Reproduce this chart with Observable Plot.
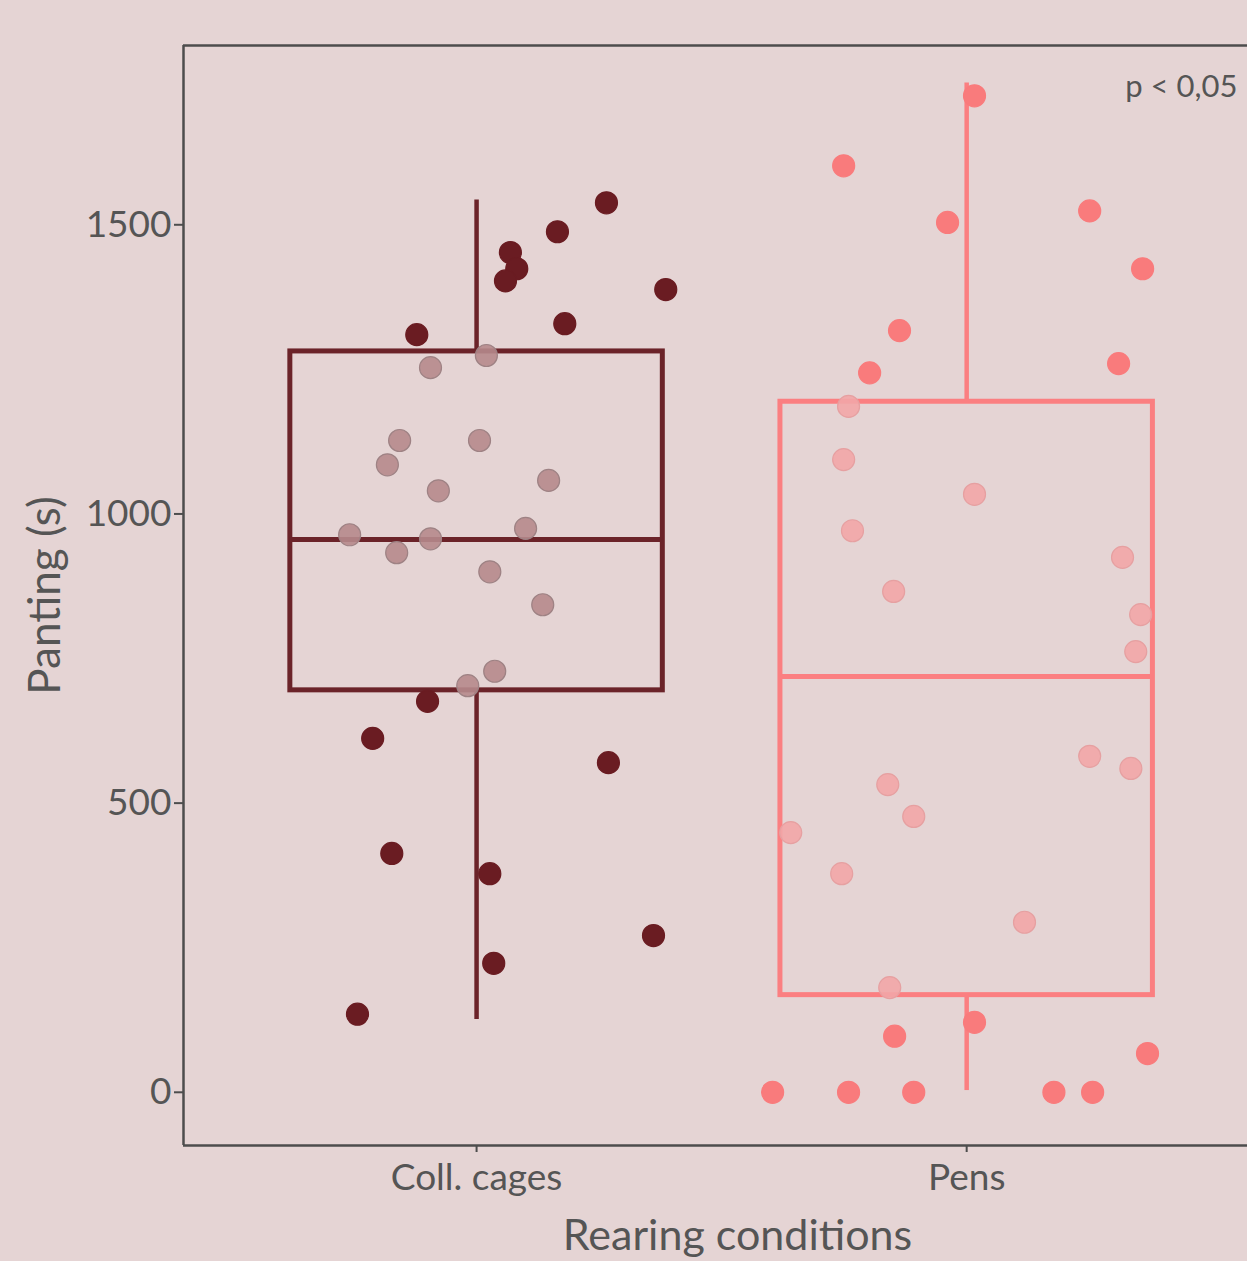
<!DOCTYPE html>
<html><head><meta charset="utf-8">
<script src="https://cdn.jsdelivr.net/npm/d3@7"></script>
<script src="https://cdn.jsdelivr.net/npm/@observablehq/plot@0.6"></script>
<style>
html,body{margin:0;padding:0;background:#e5d4d4;overflow:hidden}
#chart svg{display:block}
</style></head><body><div id="chart"></div>
<script>
// ---- data ----
const categories = ["Coll. cages", "Pens"];
const catPos = [1, 2];
const yTicks = [0, 500, 1000, 1500];
const boxQ1 = [695, 168];
const boxMedian = [956, 719];
const boxQ3 = [1281, 1194];
const whiskerLow = [126, 3];
const whiskerHigh = [1543, 1745];

const cagesOffset = [-0.122, 0.069, 0.082, 0.059, 0.165, 0.265, 0.386, 0.180, -0.100, -0.212, 0.269, -0.173, 0.027, 0.361, 0.035, -0.243,
  -0.094, 0.020, -0.157, 0.006, -0.182, -0.078, 0.147, -0.259, -0.094, 0.100, -0.163, 0.027, 0.135, 0.037, -0.018];
const cagesValue = [1310, 1452, 1424, 1403, 1488, 1538, 1388, 1329, 676, 612, 570, 413, 378, 271, 223, 135,
  1253, 1274, 1127, 1127, 1085, 1040, 1058, 964, 957, 975, 933, 900, 843, 728, 703];
const pensOffset = [0.016, -0.251, -0.039, 0.251, 0.359, -0.137, -0.198, 0.310, 0.016, -0.147, 0.369, -0.396, -0.241, -0.108, 0.178, 0.257,
  -0.241, -0.251, -0.233, 0.016, -0.149, 0.318, 0.355, 0.345, 0.251, 0.335, -0.161, -0.108, -0.359, -0.255, 0.118, -0.157];
const pensValue = [1723, 1602, 1504, 1524, 1424, 1317, 1244, 1260, 121, 97, 67, 0, 0, 0, 0, 0,
  1186, 1094, 971, 1034, 866, 925, 826, 762, 581, 560, 532, 477, 449, 378, 294, 181];

const pText = "p < 0,05";
const xTitle = "Rearing conditions";
const yTitle = "Panting (s)";

// ---- styles ----
const strokeCol = ["#6b2329", "#fb7f81"];
const darkFill = ["#6a1c22", "#f97b7c"];
const lightFill = ["#b68a8c", "#f2a6a7"];
const lightStroke = ["#9e8284", "#e6a0a1"];
const xDomain = [0.402, 2.573];
const yDomain = [-92, 1810];
const halfW = 0.38;

const boxes = categories.map((c, i) => ({
  c, x: catPos[i], q1: boxQ1[i], med: boxMedian[i], q3: boxQ3[i], lo: whiskerLow[i], hi: whiskerHigh[i], stroke: strokeCol[i]
}));
const points = [];
[[cagesOffset, cagesValue], [pensOffset, pensValue]].forEach(([off, val], i) => {
  off.forEach((o, j) => {
    const v = val[j];
    const inside = v >= boxQ1[i] && v <= boxQ3[i];
    points.push({x: catPos[i] + o, y: v, fill: inside ? lightFill[i] : darkFill[i], stroke: inside ? lightStroke[i] : darkFill[i], inside});
  });
});

const font = "Lato, 'Open Sans', sans-serif";
const chart = Plot.plot({
  width: 1247,
  height: 1261,
  marginLeft: 183,
  marginRight: 0,
  marginTop: 45,
  marginBottom: 116,
  style: {background: "#e5d4d4", fontFamily: font, color: "#555"},
  x: {domain: xDomain, axis: null},
  y: {domain: yDomain, axis: null},
  marks: [
    // frame lines
    Plot.ruleX([xDomain[0]], {stroke: "#4d4d4d", strokeWidth: 2.5}),
    Plot.ruleY([yDomain[1]], {stroke: "#4d4d4d", strokeWidth: 2.5}),
    Plot.ruleY([yDomain[0]], {stroke: "#4d4d4d", strokeWidth: 2.5}),
    // axes
    Plot.axisY({ticks: yTicks, tickFormat: (d) => String(d), tickSize: 9, tickPadding: 3, fontSize: 37, stroke: "#4d4d4d", fill: "#555", label: null, strokeWidth: 2}),
    Plot.axisX({ticks: catPos, tickFormat: (d) => categories[catPos.indexOf(d)], tickSize: 7, tickPadding: 11, fontSize: 37, stroke: "#4d4d4d", fill: "#555", label: null, strokeWidth: 2}),
    // whiskers
    Plot.ruleX(boxes, {x: "x", y1: "q3", y2: "hi", stroke: "stroke", strokeWidth: 4.5}),
    Plot.ruleX(boxes, {x: "x", y1: "lo", y2: "q1", stroke: "stroke", strokeWidth: 4.5}),
    // boxes
    Plot.rect(boxes, {x1: (d) => d.x - halfW, x2: (d) => d.x + halfW, y1: "q1", y2: "q3", fill: "none", stroke: "stroke", strokeWidth: 5}),
    Plot.ruleY(boxes, {y: "med", x1: (d) => d.x - halfW, x2: (d) => d.x + halfW, stroke: "stroke", strokeWidth: 5}),
    // points
    Plot.dot(points, {x: "x", y: "y", r: 11, fill: "fill", stroke: "stroke", strokeWidth: 1.2, fillOpacity: (d) => d.inside ? 0.9 : 1}),
    // texts
    Plot.text([pText], {frameAnchor: "top-right", text: (d) => d, dx: -10, dy: 29, textAnchor: "end", fontSize: 31, fill: "#555"}),
    Plot.text([xTitle], {frameAnchor: "bottom", text: (d) => d, dx: 22, dy: 104, fontSize: 43, fill: "#555"}),
    Plot.text([yTitle], {frameAnchor: "left", text: (d) => d, dx: -138, rotate: -90, textAnchor: "middle", fontSize: 44, fill: "#555"})
  ]
});
document.getElementById("chart").appendChild(chart);
</script></body></html>
